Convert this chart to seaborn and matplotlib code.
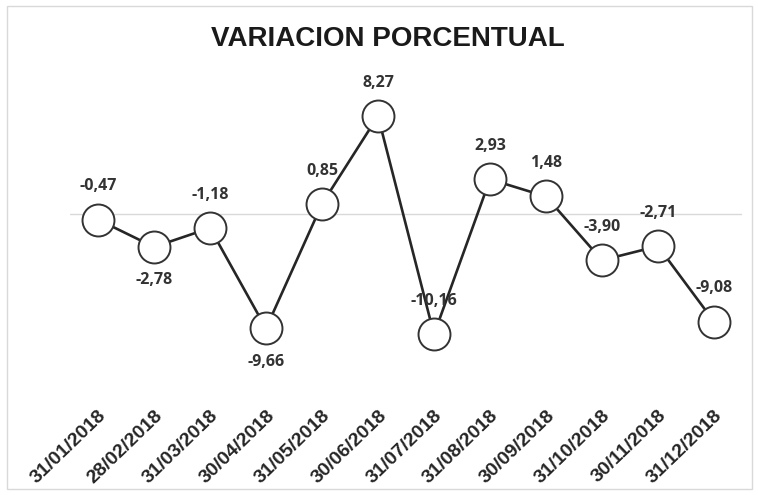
import matplotlib
matplotlib.use("Agg")
import matplotlib.pyplot as plt
import seaborn as sns
import pandas as pd
from matplotlib.patches import Rectangle

dates = ["31/01/2018", "28/02/2018", "31/03/2018", "30/04/2018", "31/05/2018", "30/06/2018",
         "31/07/2018", "31/08/2018", "30/09/2018", "31/10/2018", "30/11/2018", "31/12/2018"]
values = [-0.47, -2.78, -1.18, -9.66, 0.85, 8.27, -10.16, 2.93, 1.48, -3.90, -2.71, -9.08]
label_below = [False, True, False, True, False, False, False, False, False, False, False, False]

sns.set_theme(style="white")
df = pd.DataFrame({"idx": range(len(dates)), "val": values})

W, H = 758, 495
fig = plt.figure(figsize=(W / 100, H / 100), dpi=100)
fig.patch.set_facecolor("white")
ax = fig.add_axes([70 / W, 1 - 385 / H, 672 / W, 325 / H])

ax.axhline(0, color="#d9d9d9", lw=1.0, zorder=1)
sns.lineplot(data=df, x="idx", y="val", ax=ax, color="#262626", lw=1.9,
             marker="o", markersize=23, markerfacecolor="white",
             markeredgecolor="#333333", markeredgewidth=1.4, zorder=3)

for i, (v, below) in enumerate(zip(values, label_below)):
    txt = f"{v:.2f}".replace(".", ",")
    ax.annotate(txt, (i, v), xytext=(0, -24 if below else 24), textcoords="offset points",
                ha="center", va="center", fontsize=11.5, fontweight="bold",
                fontfamily="Open Sans", color="#333333", zorder=4)

ax.set_xlim(-0.5, len(dates) - 0.5)
ax.set_ylim(-14.43, 13.0)
ax.set_xticks(range(len(dates)))
ax.set_xticklabels(dates, rotation=44, ha="right", rotation_mode="anchor",
                   fontsize=14, fontweight="bold", fontfamily="Liberation Sans", color="#262626")
ax.tick_params(axis="x", length=0, pad=16)
ax.set_yticks([])
ax.set_xlabel("")
ax.set_ylabel("")
for s in ax.spines.values():
    s.set_visible(False)

fig.text(388 / W, 1 - 39 / H, "VARIACION PORCENTUAL", ha="center", va="center",
         fontsize=20, fontweight="bold", fontfamily="Liberation Sans", color="#1a1a1a")

fig.patches.append(Rectangle((7 / W, 6 / H), (752 - 7) / W, (489 - 6) / H, transform=fig.transFigure,
                             fill=False, edgecolor="#d9d9d9", lw=1.0))

fig.savefig("out.png", dpi=100)
